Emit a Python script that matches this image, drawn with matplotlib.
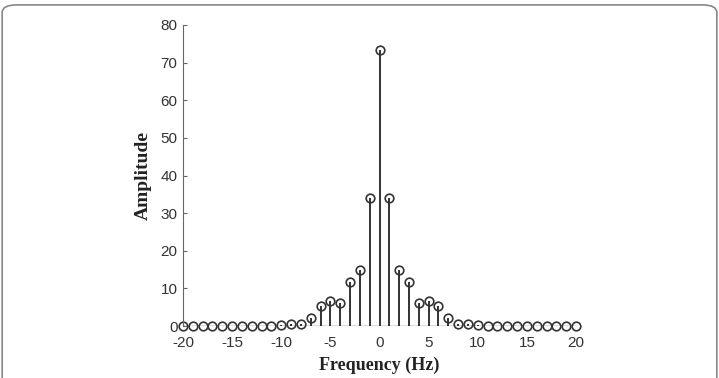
import numpy as np
import matplotlib.pyplot as plt
from matplotlib.patches import FancyBboxPatch

plt.rcParams['axes.unicode_minus'] = False

# frequency bins and amplitude spectrum (symmetric)
freq = np.arange(-20, 21)
half = [73.4, 34.0, 14.8, 11.6, 6.1, 6.6, 5.4, 2.1, 0.6, 0.5, 0.3,
        0, 0, 0, 0, 0, 0, 0, 0, 0, 0]
amp = np.array(half[:0:-1] + half)

yticks = [0, 10, 20, 30, 40, 50, 60, 70, 80]
xticks = [-20, -15, -10, -5, 0, 5, 10, 15, 20]

fig = plt.figure(figsize=(7.19, 3.78), dpi=100)

# rounded frame around the figure
frame = FancyBboxPatch((0.003, -0.1), 0.994, 1.087, boxstyle="round,pad=0,rounding_size=0.02",
                       transform=fig.transFigure, fill=False, edgecolor="#888888", lw=1.2)
fig.patches.append(frame)

ax = fig.add_axes([183/719, 1-326/378, (576-183)/719, (326-25)/378])

markerline, stemlines, baseline = ax.stem(freq, amp, basefmt=" ")
plt.setp(stemlines, color="#222222", linewidth=1.3)
plt.setp(markerline, marker="o", markersize=6.2, markerfacecolor="none",
         markeredgecolor="#333333", markeredgewidth=1.2, clip_on=False)
ax.plot([-20, 20], [0, 0], color="#555555", lw=1, zorder=1)

ax.set_xlim(-20, 20)
ax.set_ylim(0, 80)
ax.set_xticks(xticks)
ax.set_yticks(yticks)
for s in ["top", "right", "bottom"]:
    ax.spines[s].set_visible(False)
ax.spines["left"].set_color("#666666")
ax.tick_params(axis="y", direction="in", length=3, color="#666666", pad=4)
ax.tick_params(axis="x", length=0, pad=7)

tick_font = ["Liberation Sans Narrow", "Liberation Sans", "DejaVu Sans"]
for lab in ax.get_xticklabels() + ax.get_yticklabels():
    lab.set_family(tick_font)
    lab.set_fontsize(11)
    lab.set_color("#333333")

ax.set_xlabel("Frequency (Hz)", family="Liberation Serif", fontweight="bold",
              fontsize=13, color="#222222", labelpad=5)
ax.set_ylabel("Amplitude", family="Liberation Serif", fontweight="bold",
              fontsize=14, color="#222222", labelpad=6)

fig.savefig("out.png", dpi=100)
